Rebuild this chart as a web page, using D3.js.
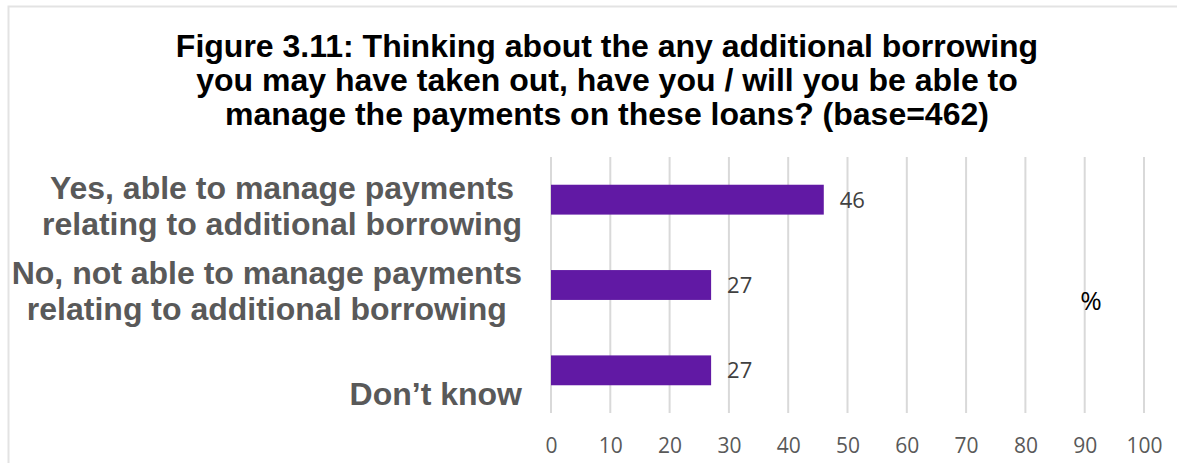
<!DOCTYPE html>
<html>
<head>
<meta charset="utf-8">
<script src="https://cdn.jsdelivr.net/npm/d3@7"></script>
<style>
  html, body { margin: 0; padding: 0; background: #fff; }
  svg { display: block; }
</style>
</head>
<body>
<svg id="chart" width="1177" height="463"></svg>
<script>
// Survey responses (percent of respondents)
const categories = [
  ["Yes, able to manage payments", "relating to additional borrowing"],
  ["No, not able to manage payments", "relating to additional borrowing"],
  ["Don\u2019t know"]
];
const values = [46, 27, 27];
const tickValues = [0, 10, 20, 30, 40, 50, 60, 70, 80, 90, 100];
const titleLines = [
  "Figure 3.11: Thinking about the any additional borrowing",
  "you may have taken out, have you / will you be able to",
  "manage the payments on these loans? (base=462)"
];
const unitLabel = "%";

const W = 1177, H = 463;
const plot = { left: 551, right: 1144, top: 157, bottom: 413 };

const svg = d3.select("#chart");

// chart area frame
svg.append("rect")
  .attr("x", 8.5).attr("y", 6.5)
  .attr("width", W + 20).attr("height", H + 20)
  .attr("fill", "#fff")
  .attr("stroke", "#e3e3e3")
  .attr("stroke-width", 2);

// title
svg.append("text")
  .attr("text-anchor", "middle")
  .attr("font-family", "Liberation Sans, Arial, sans-serif")
  .attr("font-weight", "bold")
  .attr("font-size", 32)
  .attr("fill", "#000")
  .selectAll("tspan")
  .data(titleLines)
  .join("tspan")
  .attr("x", 607)
  .attr("y", (d, i) => 57 + i * 34)
  .text(d => d);

const x = d3.scaleLinear().domain([0, 100]).range([plot.left, plot.right]);
const y = d3.scaleBand()
  .domain(d3.range(values.length))
  .range([plot.top, plot.bottom])
  .paddingInner(0.65)
  .paddingOuter(0.325);

// vertical gridlines
svg.append("g")
  .selectAll("line")
  .data(tickValues)
  .join("line")
  .attr("x1", d => x(d)).attr("x2", d => x(d))
  .attr("y1", plot.top).attr("y2", plot.bottom)
  .attr("stroke", "#d9d9d9")
  .attr("stroke-width", 2);

// x axis tick labels
const xAxis = d3.axisBottom(x).tickValues(tickValues).tickSize(0).tickPadding(0);
const gx = svg.append("g")
  .attr("transform", `translate(0, ${plot.bottom + 40})`)
  .call(xAxis);
gx.select(".domain").remove();
gx.selectAll("text")
  .attr("dy", null)
  .attr("font-family", "Open Sans, sans-serif")
  .attr("font-size", 21)
  .attr("fill", "#595959");

// bars
svg.append("g")
  .selectAll("rect")
  .data(values)
  .join("rect")
  .attr("x", x(0))
  .attr("y", (d, i) => y(i))
  .attr("width", d => x(d) - x(0))
  .attr("height", y.bandwidth())
  .attr("fill", "#6119a4");

// value labels
svg.append("g")
  .selectAll("text")
  .data(values)
  .join("text")
  .attr("x", d => x(d) + 16)
  .attr("y", (d, i) => y(i) + y.bandwidth() / 2 + 8)
  .attr("font-family", "Open Sans, sans-serif")
  .attr("font-size", 22)
  .attr("fill", "#404040")
  .text(d => d);

// category labels: lines centred on each other, block right-aligned
const labelRight = 522;
const labelG = svg.append("g")
  .attr("font-family", "Liberation Sans, Arial, sans-serif")
  .attr("font-weight", "bold")
  .attr("font-size", 32)
  .attr("fill", "#595959");

categories.forEach((lines, i) => {
  const t = labelG.append("text").attr("text-anchor", "middle");
  const spans = t.selectAll("tspan")
    .data(lines)
    .join("tspan")
    .attr("y", (d, j) => y(i) + y.bandwidth() / 2 + 35 - (lines.length - 1 - j) * 36)
    .text(d => d);
  let maxW = 0;
  spans.each(function () { maxW = Math.max(maxW, this.getComputedTextLength()); });
  spans.attr("x", labelRight - maxW / 2);
});

// unit label
svg.append("text")
  .attr("x", 1091).attr("y", 310)
  .attr("text-anchor", "middle")
  .attr("font-family", "Open Sans, sans-serif")
  .attr("font-size", 26)
  .attr("fill", "#000")
  .text(unitLabel);
</script>
</body>
</html>
